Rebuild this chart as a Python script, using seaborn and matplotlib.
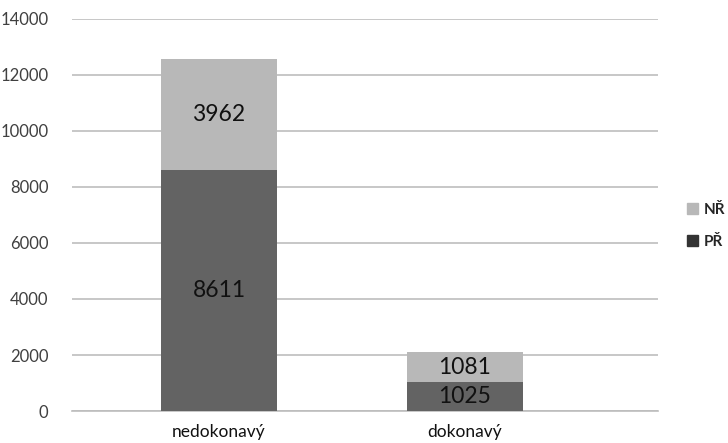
import matplotlib
matplotlib.use("Agg")
import matplotlib.pyplot as plt
from matplotlib.patches import Patch
import seaborn as sns
import pandas as pd

categories = ["nedokonavý", "dokonavý"]
pr_values = [8611, 1025]
nr_values = [3962, 1081]
yticks = [0, 2000, 4000, 6000, 8000, 10000, 12000, 14000]

sns.set_theme(style="white")
plt.rcParams["font.family"] = ["Lato", "DejaVu Sans"]

df = pd.DataFrame({"kat": categories, "PŘ": pr_values, "NŘ": nr_values})
df["celkem"] = df["PŘ"] + df["NŘ"]

light = "#b8b8b8"
dark = "#636363"

fig = plt.figure(figsize=(7.28, 4.43), dpi=100)
ax = fig.add_axes([72 / 728, 1 - 411 / 443, (658 - 72) / 728, (411 - 19) / 443])

sns.barplot(data=df, x="kat", y="celkem", color=light, width=0.47,
            saturation=1, linewidth=0, ax=ax, zorder=3)
sns.barplot(data=df, x="kat", y="PŘ", color=dark, width=0.47,
            saturation=1, linewidth=0, ax=ax, zorder=3)

for i, (p, n) in enumerate(zip(pr_values, nr_values)):
    ax.text(i, p / 2, str(p), ha="center", va="center", fontsize=16.5,
            color="#111111", zorder=4)
    ax.text(i, p + n / 2, str(n), ha="center", va="center", fontsize=16.5,
            color="#111111", zorder=4)

ax.set_ylim(0, 14000)
ax.set_yticks(yticks)
ax.set_xlim(-0.598, 1.785)
ax.yaxis.grid(True, color="#bdbdbd", linewidth=1.2, zorder=0)
ax.set_axisbelow(True)
for s in ["top", "right", "left"]:
    ax.spines[s].set_visible(False)
ax.spines["bottom"].set_color("#bdbdbd")
ax.spines["bottom"].set_linewidth(1.2)
ax.set_xlabel("")
ax.set_ylabel("")
ax.tick_params(axis="y", length=0, pad=17, labelsize=12, labelcolor="#404040")
ax.tick_params(axis="x", length=0, pad=9, labelsize=12.5, labelcolor="#111111")

handles = [Patch(color=light, label="NŘ"), Patch(color="#333333", label="PŘ")]
leg = fig.legend(handles=handles, loc="center left",
                 bbox_to_anchor=(687 / 728, 1 - 226 / 443), frameon=False,
                 borderpad=0, borderaxespad=0,
                 handlelength=0.75, handleheight=0.75, handletextpad=0.35,
                 labelspacing=1.2, prop={"size": 11, "weight": "bold"})
for t in leg.get_texts():
    t.set_color("#262626")

fig.savefig("out.png", dpi=100)
